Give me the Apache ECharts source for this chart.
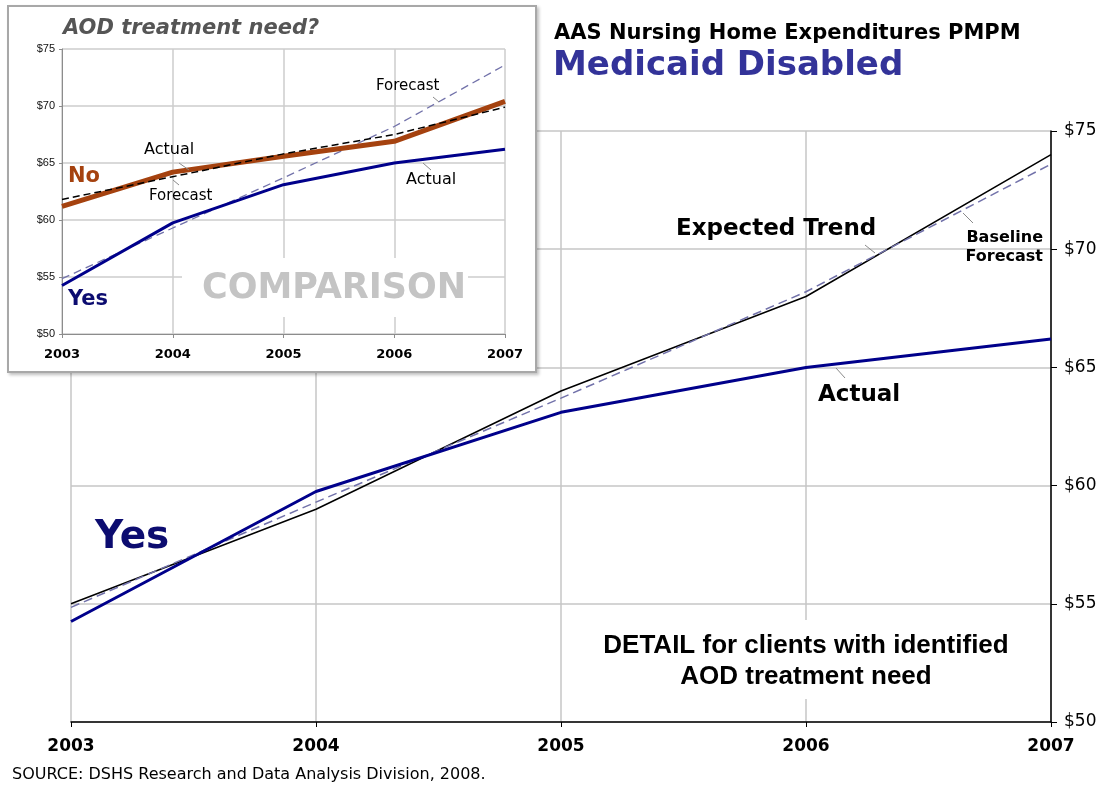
<!DOCTYPE html>
<html>
<head>
<meta charset="utf-8">
<script src="https://cdn.jsdelivr.net/npm/echarts/dist/echarts.min.js"></script>
<style>
  html, body { margin: 0; padding: 0; background: #fff; }
  #wrap { position: relative; width: 1105px; height: 789px; }
  #mainChart { position: absolute; left: 0; top: 0; width: 1105px; height: 789px; }
  #inset {
    position: absolute; left: 7px; top: 5px; width: 526px; height: 364px;
    border: 2px solid #a8a8a8; background: #fff;
    box-shadow: 2px 2px 3px rgba(0,0,0,0.25);
  }
</style>
</head>
<body>
<div id="wrap">
  <div id="mainChart"></div>
  <div id="inset"></div>
</div>
<script>
// years on the x axis
var years = ['2003', '2004', '2005', '2006', '2007'];

// clients with AOD treatment need (Yes)
var yesActual   = [54.25, 59.75, 63.1, 65.0, 66.2];
var yesExpected = [55.0, 59.0, 64.0, 68.0, 74.0];
var yesForecast = [54.85, 59.3, 63.7, 68.2, 73.6];

// clients without AOD treatment need (No) - inset only
var noActual   = [61.2, 64.2, 65.6, 66.9, 70.4];
var noForecast = [61.8, 63.8, 65.8, 67.5, 69.9];

// dollar axis
var yMin = 50, yMax = 75, yStep = 5;

var NAVY = '#00008b';
var BROWN = '#a5420f';
var FCAST = '#7272aa';
var SANS = '"DejaVu Sans", Verdana, sans-serif';
var ARIAL = '"Liberation Sans", Arial, sans-serif';

function money(v) { return '$' + v; }

// ---------- main chart ----------
var mainChart = echarts.init(document.getElementById('mainChart'));

function txt(x, y, s, font, fill, align) {
    return {
        type: 'text', z: 10,
        style: { x: x, y: y, text: s, font: font, fill: fill || '#000',
                 textAlign: align || 'left', textVerticalAlign: 'middle' }
    };
}
function lead(x1, y1, x2, y2) {
    return {
        type: 'line', z: 10,
        shape: { x1: x1, y1: y1, x2: x2, y2: y2 },
        style: { stroke: '#8a8a8a', lineWidth: 1 }
    };
}

mainChart.setOption({
    animation: false,
    backgroundColor: '#fff',
    grid: { left: 71, right: 54, top: 131, bottom: 67 },
    xAxis: {
        type: 'category',
        data: years,
        boundaryGap: false,
        axisLine: { lineStyle: { color: '#000', width: 1.5 } },
        axisTick: { show: true, length: 5, lineStyle: { color: '#000' } },
        axisLabel: { margin: 16, fontFamily: SANS, fontWeight: 'bold', fontSize: 17, color: '#000' },
        splitLine: { show: true, lineStyle: { color: '#c6c6c6', width: 1.5 } }
    },
    yAxis: {
        type: 'value',
        position: 'right',
        min: yMin, max: yMax, interval: yStep,
        axisLine: { show: true, lineStyle: { color: '#000', width: 1.5 } },
        axisTick: { show: true, length: 6, lineStyle: { color: '#000' } },
        axisLabel: { margin: 13, fontFamily: SANS, fontSize: 17, color: '#000', formatter: money },
        splitLine: { show: true, lineStyle: { color: '#c6c6c6', width: 1.5 } }
    },
    series: [
        {
            name: 'Expected Trend', type: 'line', data: yesExpected, symbol: 'none',
            lineStyle: { color: '#000', width: 1.5 }
        },
        {
            name: 'Baseline Forecast', type: 'line', data: yesForecast, symbol: 'none',
            lineStyle: { color: FCAST, width: 1.5, type: [9, 5] }
        },
        {
            name: 'Actual', type: 'line', data: yesActual, symbol: 'none',
            lineStyle: { color: NAVY, width: 3 }
        }
    ],
    graphic: [
        txt(554, 34, 'AAS Nursing Home Expenditures PMPM', 'bold 21px ' + SANS, '#000'),
        txt(553, 66, 'Medicaid Disabled', 'bold 34px ' + SANS, '#333399'),
        txt(676, 229, 'Expected Trend', 'bold 23px ' + SANS),
        lead(865, 245, 875, 253),
        txt(1043, 238, 'Baseline', 'bold 16px ' + SANS, '#000', 'right'),
        txt(1043, 257, 'Forecast', 'bold 16px ' + SANS, '#000', 'right'),
        lead(963, 213, 973, 223),
        txt(818, 395, 'Actual', 'bold 23px ' + SANS),
        lead(836, 368, 845, 378),
        txt(95, 538, 'Yes', 'bold 39px ' + SANS, '#0c0c70'),
        {
            type: 'rect', z: 5,
            shape: { x: 598, y: 620, width: 414, height: 79 },
            style: { fill: '#fff' }
        },
        txt(806, 646, 'DETAIL for clients with identified', 'bold 26px ' + ARIAL, '#000', 'center'),
        txt(806, 677, 'AOD treatment need', 'bold 26px ' + ARIAL, '#000', 'center'),
        txt(12, 775, 'SOURCE: DSHS Research and Data Analysis Division, 2008.',
            '16px ' + SANS, '#000')
    ]
});

// ---------- inset comparison chart ----------
var insetChart = echarts.init(document.getElementById('inset'));

insetChart.setOption({
    animation: false,
    backgroundColor: '#fff',
    grid: { left: 53, right: 30, top: 42, bottom: 37 },
    xAxis: {
        type: 'category',
        data: years,
        boundaryGap: false,
        axisLine: { lineStyle: { color: '#8c8c8c', width: 1 } },
        axisTick: { show: true, length: 4, lineStyle: { color: '#8c8c8c' } },
        axisLabel: { margin: 14, fontFamily: SANS, fontWeight: 'bold', fontSize: 13, color: '#000' },
        splitLine: { show: true, lineStyle: { color: '#cccccc', width: 1.5 } }
    },
    yAxis: {
        type: 'value',
        min: yMin, max: yMax, interval: yStep,
        axisLine: { show: true, lineStyle: { color: '#8c8c8c', width: 1 } },
        axisTick: { show: true, length: 3, lineStyle: { color: '#8c8c8c' } },
        axisLabel: { margin: 7, fontFamily: ARIAL, fontSize: 11, color: '#111', formatter: money },
        splitLine: { show: true, lineStyle: { color: '#cccccc', width: 1.5 } }
    },
    series: [
        {
            name: 'Yes Forecast', type: 'line', data: yesForecast, symbol: 'none',
            lineStyle: { color: FCAST, width: 1.3, type: [8, 5] }
        },
        {
            name: 'Yes Actual', type: 'line', data: yesActual, symbol: 'none',
            lineStyle: { color: NAVY, width: 3 }
        },
        {
            name: 'No Actual', type: 'line', data: noActual, symbol: 'none',
            lineStyle: { color: BROWN, width: 5 }
        },
        {
            name: 'No Forecast', type: 'line', data: noForecast, symbol: 'none',
            lineStyle: { color: '#000', width: 1.5, type: [7, 4] }
        }
    ],
    graphic: [
        txt(54, 22, 'AOD treatment need?', 'italic bold 21px ' + SANS, '#555'),
        txt(59, 170, 'No', 'bold 21px ' + SANS, BROWN),
        txt(59, 293, 'Yes', 'bold 21px ' + SANS, '#0c0c70'),
        txt(135, 143, 'Actual', '16px ' + SANS),
        lead(170, 156, 180, 163),
        txt(140, 189, 'Forecast', '15px ' + SANS),
        lead(164, 173, 170, 178),
        txt(367, 79, 'Forecast', '15px ' + SANS),
        lead(424, 90, 430, 95),
        txt(397, 173, 'Actual', '16px ' + SANS),
        lead(414, 156, 422, 163),
        {
            type: 'rect', z: 5,
            shape: { x: 173, y: 251, width: 286, height: 59 },
            style: { fill: '#fff' }
        },
        txt(325, 282, 'COMPARISON', 'bold 35px ' + SANS, '#c4c4c4', 'center')
    ]
});
</script>
</body>
</html>
